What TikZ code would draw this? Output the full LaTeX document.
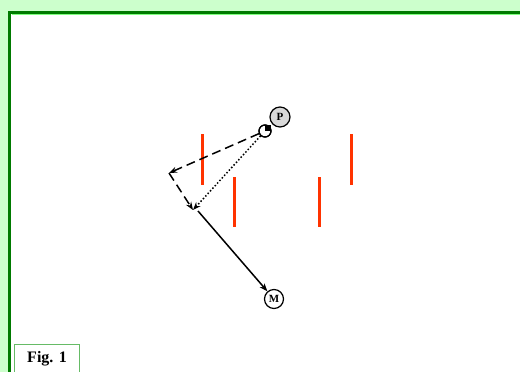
\documentclass[tikz,border=0pt]{standalone}
\usepackage{fontspec}
\setmainfont{Liberation Serif}
\usepackage{xcolor}
\usetikzlibrary{arrows.meta}
\definecolor{pale}{HTML}{CCFFCC}
\definecolor{frame}{HTML}{007A00}
\definecolor{bar}{HTML}{FF3300}
\definecolor{figline}{HTML}{66BB66}

\begin{document}
\begin{tikzpicture}[x=1pt, y=-1pt,
    ray/.style={line width=1.5pt, -{Stealth[length=8pt,width=6pt]}},
    wall/.style={bar, line width=3pt},
    ball/.style={circle, draw, line width=1.2pt, inner sep=0pt, font=\bfseries\fontsize{11}{11}\selectfont}]
        % Page background and frame
        \useasboundingbox (0,0) rectangle (520,372);
        \fill[pale] (0,0) rectangle (520,372);
        \fill[white] (11,14) rectangle (520,372);
        \draw[frame, line width=3.5pt] (9.5,372) -- (9.5,12.5) -- (520,12.5);
        \draw[green!50!white, line width=0.8pt] (11.5,14.8) -- (520,14.8);

        % Walls
        \draw[wall] (202,134) -- (202,185);
        \draw[wall] (234,177) -- (234,227);
        \draw[wall] (319,177) -- (319,227);
        \draw[wall] (351,134) -- (351,185);

        % Points
        \node[ball, fill=gray!30, minimum size=20pt] (P) at (280,117) {P};
        \node[ball, fill=white, minimum size=19pt] (M) at (274,299) {M};
        \node[circle, draw, line width=1.2pt, fill=white, minimum size=12pt, inner sep=0pt] (src) at (265,131) {};
        \fill (src.center) rectangle ++(6,-6);
        \draw[line width=1.2pt] (src) circle (6pt);
        \coordinate (bend) at (169,173);
        \coordinate (meet) at (193,210);
        \coordinate (start) at (198,211);

        % Rays
        \draw[ray, dashed, dash pattern=on 9pt off 5pt] (src) -- (bend);
        \draw[ray, dashed, dash pattern=on 9pt off 5pt] (bend) -- (meet);
        \draw[ray, dotted] (src) -- (meet);
        \draw[ray] (start) -- (M);

        % Caption
        \node[draw=figline, line width=1pt, fill=white, minimum width=65pt, minimum height=29pt,
              anchor=north west, font=\bfseries\fontsize{16}{16}\selectfont] (fig) at (14,344) {Fig. 1};
\end{tikzpicture}
\end{document}
